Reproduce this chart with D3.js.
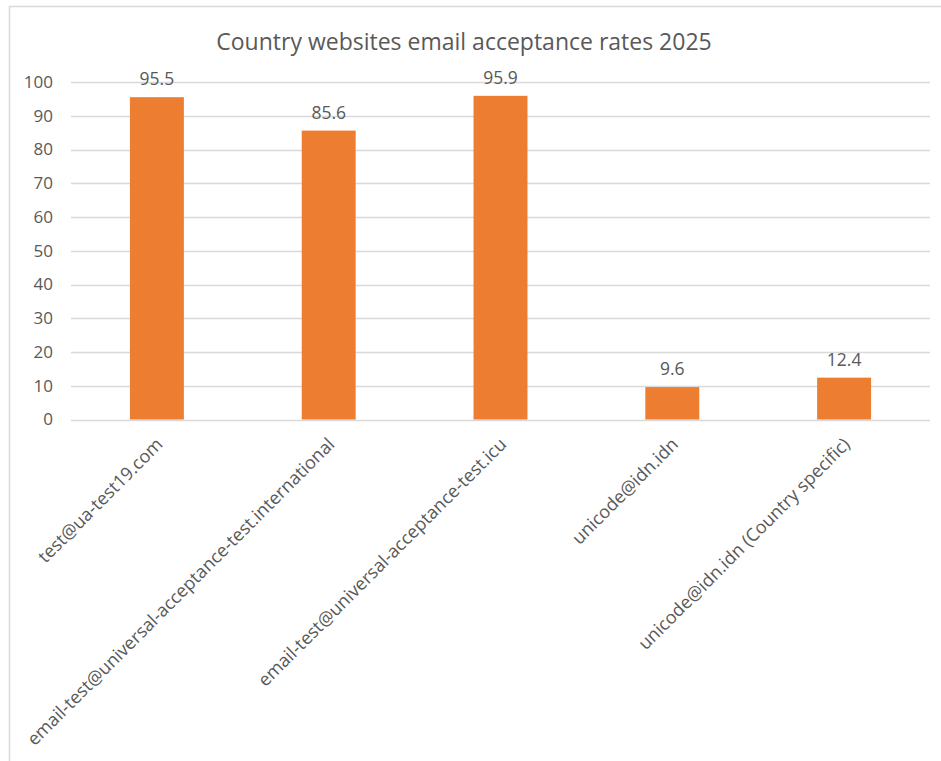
<!DOCTYPE html>
<html>
<head>
<meta charset="utf-8">
<script src="https://cdn.jsdelivr.net/npm/d3@7"></script>
<style>
  html, body { margin: 0; padding: 0; background: #fff; }
  svg { display: block; }
  text { font-family: "Open Sans", "Liberation Sans", sans-serif; fill: #595959; }
</style>
</head>
<body>
<script>
// Chart content
const titleText = "Country websites email acceptance rates 2025";
const categories = [
  "test@ua-test19.com",
  "email-test@universal-acceptance-test.international",
  "email-test@universal-acceptance-test.icu",
  "unicode@idn.idn",
  "unicode@idn.idn (Country specific)"
];
const rates = [95.5, 85.6, 95.9, 9.6, 12.4];
const yTicks = [0, 10, 20, 30, 40, 50, 60, 70, 80, 90, 100];

const W = 941, H = 761;
const plot = { left: 71, right: 930, top: 82, bottom: 419.5 };

const svg = d3.select("body").append("svg")
  .attr("width", W).attr("height", H);

// chart frame
svg.append("path")
  .attr("d", `M9.5,${H} V6.5 H${W}`)
  .attr("fill", "none")
  .attr("stroke", "#d9d9d9")
  .attr("stroke-width", 1.5);

const x = d3.scaleBand()
  .domain(categories)
  .range([plot.left, plot.right])
  .paddingInner(0.686)
  .paddingOuter(0.343);

const y = d3.scaleLinear()
  .domain([0, 100])
  .range([plot.bottom, plot.top]);

// horizontal gridlines
svg.append("g")
  .selectAll("line")
  .data(yTicks)
  .join("line")
  .attr("x1", plot.left).attr("x2", plot.right)
  .attr("y1", d => Math.round(y(d)) + 0.5)
  .attr("y2", d => Math.round(y(d)) + 0.5)
  .attr("stroke", "#d9d9d9")
  .attr("stroke-width", 1.5);

// y axis labels
const yAxis = d3.axisLeft(y).tickValues(yTicks).tickSize(0).tickPadding(0);
const yg = svg.append("g")
  .attr("transform", `translate(${plot.left - 18},0)`)
  .call(yAxis);
yg.select(".domain").remove();
yg.selectAll("text")
  .attr("font-family", null)
  .style("font-size", "17px")
  .attr("fill", null);

// bars
svg.append("g")
  .selectAll("rect")
  .data(rates)
  .join("rect")
  .attr("x", (d, i) => x(categories[i]))
  .attr("width", x.bandwidth())
  .attr("y", d => y(d))
  .attr("height", d => y(0) - y(d))
  .attr("fill", "#ED7D31");

// value labels
svg.append("g")
  .selectAll("text")
  .data(rates)
  .join("text")
  .attr("x", (d, i) => x(categories[i]) + x.bandwidth() / 2)
  .attr("y", d => y(d) - 12)
  .attr("text-anchor", "middle")
  .style("font-size", "17.5px")
  .text(d => d.toFixed(1));

// category labels, rotated
const xAxis = d3.axisBottom(x).tickSize(0).tickPadding(0);
const xg = svg.append("g")
  .attr("transform", `translate(0,${plot.bottom})`)
  .call(xAxis);
xg.select(".domain").remove();
xg.selectAll("text")
  .attr("font-family", null)
  .attr("fill", null)
  .style("font-size", "18px")
  .attr("text-anchor", "end")
  .attr("dy", null)
  .attr("y", null)
  .attr("transform", "translate(7,26) rotate(-45)");

// title
svg.append("text")
  .attr("x", 464)
  .attr("y", 50)
  .attr("text-anchor", "middle")
  .style("font-size", "23px")
  .text(titleText);
</script>
</body>
</html>
